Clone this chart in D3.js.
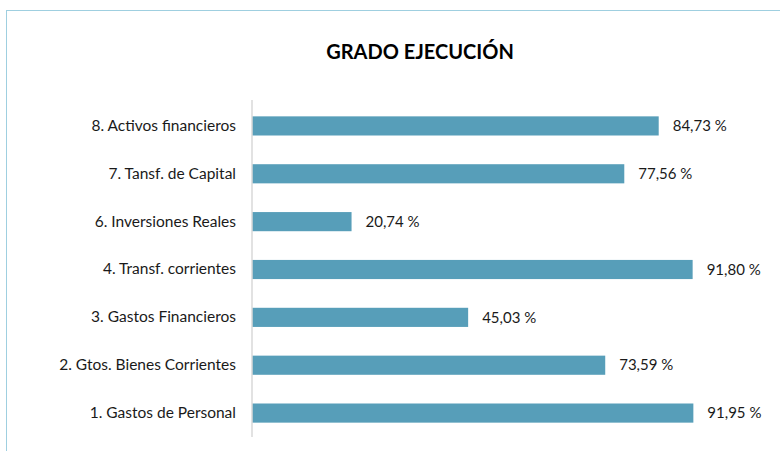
<!DOCTYPE html>
<html>
<head>
<meta charset="utf-8">
<script src="https://cdn.jsdelivr.net/npm/d3@7"></script>
<style>
  body { margin: 0; background: #fff; }
  svg { display: block; font-family: Lato, "Open Sans", sans-serif; }
</style>
</head>
<body>
<div id="chart"></div>
<script>
// categories top to bottom, as drawn
var categories = ["8. Activos financieros", "7. Tansf. de Capital", "6. Inversiones Reales",
  "4. Transf. corrientes", "3. Gastos Financieros", "2. Gtos. Bienes Corrientes", "1. Gastos de Personal"];
var values = [84.73, 77.56, 20.74, 91.80, 45.03, 73.59, 91.95];
var title = "GRADO EJECUCIÓN";

var width = 780, height = 451;
var svg = d3.select("#chart").append("svg").attr("width", width).attr("height", height);

// outer frame
svg.append("rect").attr("x", 6.5).attr("y", 10.5).attr("width", width).attr("height", height)
  .attr("fill", "none").attr("stroke", "#9fcfe0").attr("stroke-width", 1);

svg.append("text").attr("x", 420).attr("y", 59).attr("text-anchor", "middle")
  .attr("font-size", 20).attr("font-weight", "bold").attr("fill", "#000").text(title);

var x = d3.scaleLinear().domain([0, 100]).range([252, 732]);
var y = d3.scaleBand().domain(categories).range([102, 437]).paddingInner(0.6).paddingOuter(0.3);

svg.selectAll(".bar").data(values).enter().append("rect")
  .attr("class", "bar")
  .attr("x", x(0))
  .attr("y", function (d, i) { return y(categories[i]); })
  .attr("width", function (d) { return x(d) - x(0); })
  .attr("height", y.bandwidth())
  .attr("fill", "#579eb9");

svg.selectAll(".val").data(values).enter().append("text")
  .attr("class", "val")
  .attr("x", function (d) { return x(d) + 14; })
  .attr("y", function (d, i) { return y(categories[i]) + y.bandwidth() / 2; })
  .attr("dy", "0.35em")
  .attr("font-size", 15).attr("fill", "#1a1a1a")
  .text(function (d) { return d.toFixed(2).replace(".", ",") + " %"; });

var axis = svg.append("g").attr("transform", "translate(" + x(0) + ",0)")
  .call(d3.axisLeft(y).tickSize(0).tickPadding(16));
axis.select(".domain").attr("stroke", "#d9d9d9").attr("stroke-width", 1.5)
  .attr("d", "M0,100V437");
axis.selectAll("text").attr("font-size", 15.5).attr("fill", "#1a1a1a")
  .attr("font-family", "Lato, 'Open Sans', sans-serif");
</script>
</body>
</html>
